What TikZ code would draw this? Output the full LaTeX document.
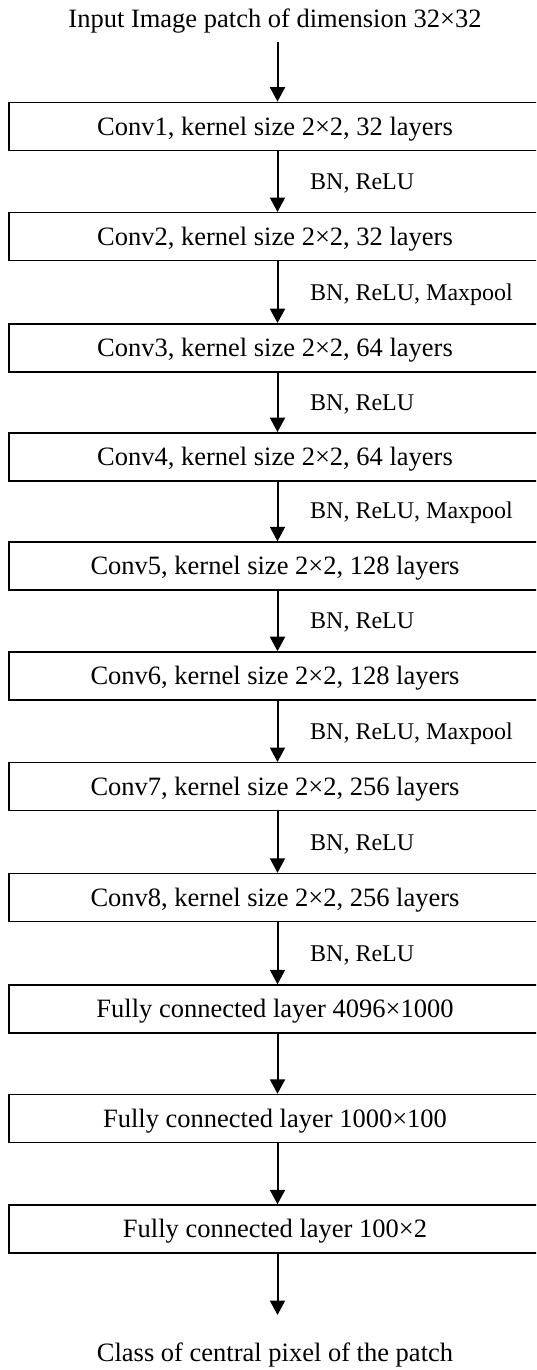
\documentclass[tikz,border=0pt]{standalone}
\usepackage{fontspec}
\setmainfont{Liberation Serif}
\usetikzlibrary{arrows.meta}
\tikzset{
  box/.style={draw, line width=1.4pt, minimum width=532pt, minimum height=48pt, inner sep=0pt,
    font=\fontsize{26.5}{30}\selectfont, text height=17.5pt, text depth=0pt},
  plain/.style={inner sep=0pt, font=\fontsize{26.5}{30}\selectfont, text height=17.5pt, text depth=0pt},
  lab/.style={anchor=west, inner sep=0pt, font=\fontsize{24}{28}\selectfont, text height=15.9pt, text depth=0pt},
  arr/.style={line width=2pt, -{Triangle[width=15pt,length=14.5pt]}}
}
\begin{document}
\begin{tikzpicture}[x=1pt,y=-1pt]
\clip (0,0) rectangle (536,1370);
\coordinate (ax) at (277.5,0);
\coordinate (in0) at (277.5,42);
\node[plain] (title) at (275,19) {Input Image patch of dimension 32×32};
\node[box] (b1) at (275,126.3) {Conv1, kernel size 2×2, 32 layers};
\node[box] (b2) at (275,236.7) {Conv2, kernel size 2×2, 32 layers};
\node[box] (b3) at (275,347.8) {Conv3, kernel size 2×2, 64 layers};
\node[box] (b4) at (275,456.8) {Conv4, kernel size 2×2, 64 layers};
\node[box] (b5) at (275,566) {Conv5, kernel size 2×2, 128 layers};
\node[box] (b6) at (275,675.9) {Conv6, kernel size 2×2, 128 layers};
\node[box] (b7) at (275,786.7) {Conv7, kernel size 2×2, 256 layers};
\node[box] (b8) at (275,897.5) {Conv8, kernel size 2×2, 256 layers};
\node[box] (b9) at (275,1009) {Fully connected layer 4096×1000};
\node[box] (b10) at (275,1118.5) {Fully connected layer 1000×100};
\node[box] (b11) at (275,1229) {Fully connected layer 100×2};
\coordinate (out0) at (277.5,1315);
\node[plain] (out) at (275,1353) {Class of central pixel of the patch};
\draw[arr] (in0) -- (b1.north -| ax);
\draw[arr] (b1.south -| ax) -- (b2.north -| ax);
\draw[arr] (b2.south -| ax) -- (b3.north -| ax);
\draw[arr] (b3.south -| ax) -- (b4.north -| ax);
\draw[arr] (b4.south -| ax) -- (b5.north -| ax);
\draw[arr] (b5.south -| ax) -- (b6.north -| ax);
\draw[arr] (b6.south -| ax) -- (b7.north -| ax);
\draw[arr] (b7.south -| ax) -- (b8.north -| ax);
\draw[arr] (b8.south -| ax) -- (b9.north -| ax);
\draw[arr] (b9.south -| ax) -- (b10.north -| ax);
\draw[arr] (b10.south -| ax) -- (b11.north -| ax);
\draw[arr] (b11.south -| ax) -- (out0);
\node[lab] (l1) at (310,181.5) {BN, ReLU};
\node[lab] (l2) at (310,292.3) {BN, ReLU, Maxpool};
\node[lab] (l3) at (310,402.3) {BN, ReLU};
\node[lab] (l4) at (310,511) {BN, ReLU, Maxpool};
\node[lab] (l5) at (310,620.5) {BN, ReLU};
\node[lab] (l6) at (310,731.3) {BN, ReLU, Maxpool};
\node[lab] (l7) at (310,842.3) {BN, ReLU};
\node[lab] (l8) at (310,953.3) {BN, ReLU};
\end{tikzpicture}
\end{document}
